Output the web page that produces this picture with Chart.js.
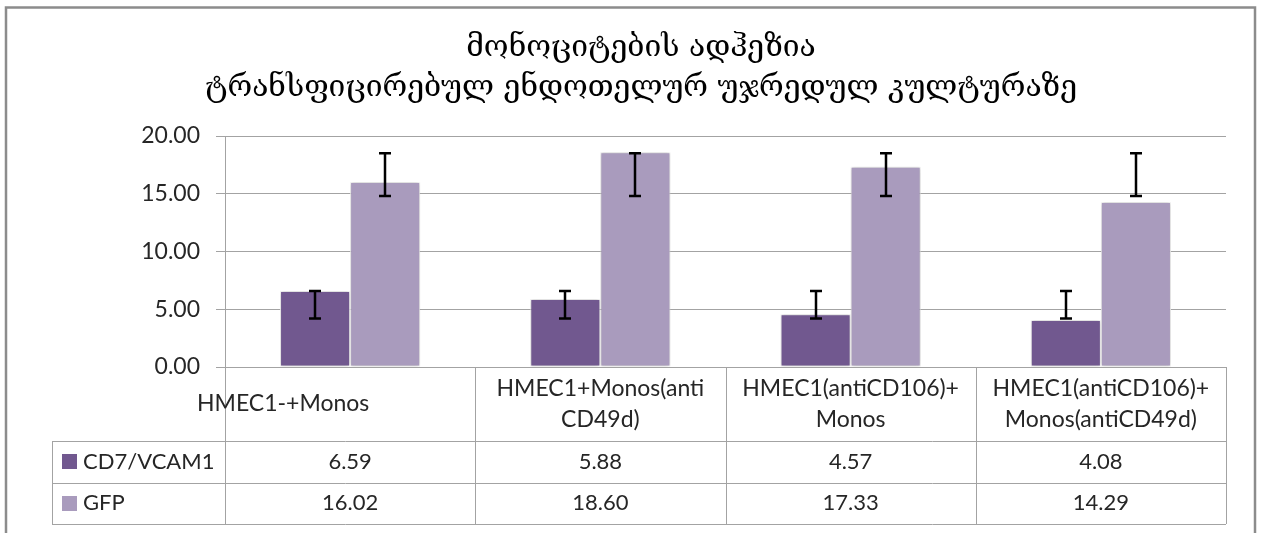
<!DOCTYPE html>
<html>
<head>
<meta charset="utf-8">
<script src="https://cdn.jsdelivr.net/npm/chart.js@4"></script>
<style>
    html, body { margin: 0; padding: 0; background: #fff; }
    #wrap { position: relative; width: 1265px; height: 533px; }
</style>
</head>
<body>
<div id="wrap"><canvas id="chart"></canvas></div>
<script>
// ---------------------------------------------------------------------------
// Data
// ---------------------------------------------------------------------------

const titleLines = ["მონოციტების ადჰეზია", "ტრანსფიცირებულ ენდოთელურ უჯრედულ კულტურაზე"];

const categories = [
    ["HMEC1-+Monos"],
    ["HMEC1+Monos(anti", "CD49d)"],
    ["HMEC1(antiCD106)+", "Monos"],
    ["HMEC1(antiCD106)+", "Monos(antiCD49d)"],
];

const seriesNames = ["CD7/VCAM1", "GFP"];
const cd7Values = [6.59, 5.88, 4.57, 4.08];
const gfpValues = [16.02, 18.60, 17.33, 14.29];

// error bars as drawn (low / high ends)
const cd7ErrLow = [4.2, 4.2, 4.2, 4.2];
const cd7ErrHigh = [6.59, 6.59, 6.59, 6.59];
const gfpErrLow = [14.8, 14.8, 14.8, 14.8];
const gfpErrHigh = [18.5, 18.5, 18.5, 18.5];

const yMin = 0;
const yMax = 20;
const yStep = 5;

const colors = ["#71588f", "#a99bbd"];
const lineGray = "#a3a3a3";
const textColor = "#262626";

// ---------------------------------------------------------------------------
// Plugins
// ---------------------------------------------------------------------------

const frame = {
    id: "frame",
    beforeDraw(chart) {
        const ctx = chart.ctx;
        ctx.save();
        ctx.strokeStyle = "#8c8c8c";
        ctx.lineWidth = 2.5;
        ctx.strokeRect(6, 7.5, 1249, 600);
        ctx.restore();
    },
};

const barShadow = {
    id: "barShadow",
    beforeDatasetsDraw(chart) {
        const ctx = chart.ctx;
        ctx.save();
        ctx.shadowColor = "rgba(0,0,0,0.28)";
        ctx.shadowBlur = 4;
        ctx.shadowOffsetX = 0;
        ctx.shadowOffsetY = 0;
    },
    afterDatasetsDraw(chart) {
        chart.ctx.restore();
    },
};

const errorBars = {
    id: "errorBars",
    afterDatasetsDraw(chart) {
        const ctx = chart.ctx;
        const y = chart.scales.y;
        const lows = [cd7ErrLow, gfpErrLow];
        const highs = [cd7ErrHigh, gfpErrHigh];
        ctx.save();
        ctx.strokeStyle = "#000";
        ctx.lineWidth = 2.5;
        chart.data.datasets.forEach((ds, di) => {
            chart.getDatasetMeta(di).data.forEach((bar, i) => {
                const yl = y.getPixelForValue(lows[di][i]);
                const yh = y.getPixelForValue(highs[di][i]);
                const x = Math.round(bar.x);
                ctx.beginPath();
                ctx.moveTo(x, yl); ctx.lineTo(x, yh);
                ctx.moveTo(x - 6, yl); ctx.lineTo(x + 6, yl);
                ctx.moveTo(x - 6, yh); ctx.lineTo(x + 6, yh);
                ctx.stroke();
            });
        });
        ctx.restore();
    },
};

// Excel style data table under the plot
const dataTable = {
    id: "dataTable",
    afterDraw(chart) {
        const ctx = chart.ctx;
        const xs = chart.scales.x;
        const area = chart.chartArea;
        const n = categories.length;
        const w = (xs.right - xs.left) / n;
        const top = area.bottom;
        const headBottom = top + 74;
        const rowH = 41.5;
        const tableLeft = 52;
        const tableBottom = headBottom + rowH * seriesNames.length;
        const px = (v) => Math.round(v) + 0.5;

        ctx.save();
        ctx.strokeStyle = lineGray;
        ctx.lineWidth = 1;
        ctx.beginPath();
        for (let i = 0; i <= n; i++) {
            const x = px(xs.left + i * w);
            ctx.moveTo(x, top); ctx.lineTo(x, tableBottom);
        }
        ctx.moveTo(px(tableLeft), headBottom); ctx.lineTo(px(tableLeft), tableBottom);
        for (let r = 0; r <= seriesNames.length; r++) {
            const yy = px(headBottom + r * rowH);
            ctx.moveTo(tableLeft, yy); ctx.lineTo(xs.right, yy);
        }
        ctx.stroke();

        ctx.fillStyle = textColor;
        ctx.textAlign = "center";
        ctx.textBaseline = "middle";
        ctx.font = "23px Lato";
        const headShift = [-67, 0, 0, 0];
        categories.forEach((lines, i) => {
            const cx = xs.left + (i + 0.5) * w + headShift[i];
            const mid = top + 37;
            lines.forEach((t, k) => {
                const yy = mid + (k - (lines.length - 1) / 2) * 31;
                ctx.fillText(t, cx, yy);
            });
        });

        const rows = [cd7Values, gfpValues];
        rows.forEach((vals, r) => {
            const cy = headBottom + (r + 0.5) * rowH;
            ctx.fillStyle = colors[r];
            ctx.fillRect(62, Math.round(cy - 7.5), 15, 15);
            ctx.fillStyle = textColor;
            ctx.textAlign = "left";
            ctx.font = "22px Lato";
            ctx.fillText(seriesNames[r], 83, cy);
            ctx.textAlign = "center";
            vals.forEach((v, i) => {
                ctx.fillText(v.toFixed(2), xs.left + (i + 0.5) * w, cy);
            });
        });
        ctx.restore();
    },
};

// ---------------------------------------------------------------------------
// Chart
// ---------------------------------------------------------------------------

const ctx = document.getElementById("chart").getContext("2d");

new Chart(ctx, {
    type: "bar",
    data: {
        labels: categories.map((c) => c.join(" ")),
        datasets: [
            { label: seriesNames[0], data: cd7Values, backgroundColor: colors[0] },
            { label: seriesNames[1], data: gfpValues, backgroundColor: colors[1] },
        ],
    },
    options: {
        responsive: true,
        maintainAspectRatio: false,
        animation: false,
        devicePixelRatio: 1,
        datasets: {
            bar: {
                categoryPercentage: 0.56,
                barPercentage: 1,
                borderColor: "#ffffff",
                borderWidth: 1,
                borderSkipped: false,
            },
        },
        // left padding centres the title on the frame; y axis keeps its edge at x=225
        layout: { padding: { top: 8, left: 56, right: 39, bottom: 166 } },
        plugins: {
            legend: { display: false },
            tooltip: { enabled: false },
            title: {
                display: true,
                text: titleLines,
                color: "#000",
                font: { family: "'DejaVu Serif', 'DejaVu Sans'", size: 30, weight: "normal", lineHeight: "40px" },
                padding: { top: 20, bottom: 28 },
            },
        },
        scales: {
            x: { display: false },
            y: {
                min: yMin,
                max: yMax,
                afterFit(scale) { scale.width = 169; },
                ticks: {
                    stepSize: yStep,
                    color: textColor,
                    padding: 16,
                    font: { family: "Lato", size: 23 },
                    callback: (v) => Number(v).toFixed(2),
                },
                grid: { color: lineGray, tickLength: 9, lineWidth: 1 },
                border: { color: lineGray },
            },
        },
    },
    plugins: [frame, barShadow, errorBars, dataTable],
});
</script>
</body>
</html>
